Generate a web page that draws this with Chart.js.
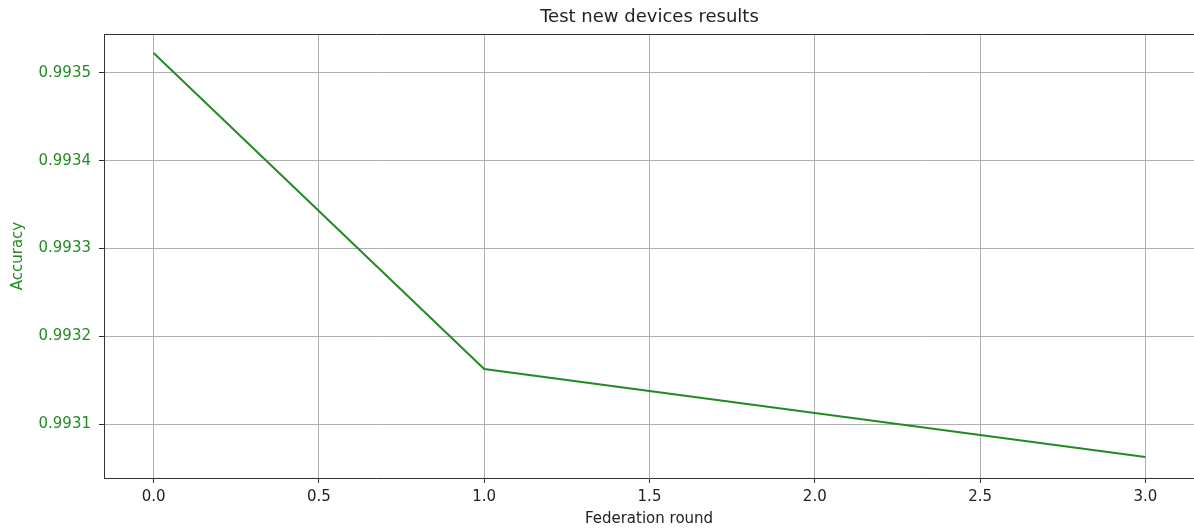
<!DOCTYPE html>
<html>
<head>
<meta charset="utf-8">
<script src="https://cdn.jsdelivr.net/npm/chart.js@4/dist/chart.umd.min.js"></script>
<style>
    html, body { margin: 0; padding: 0; background: #fff; overflow: hidden; }
    canvas { display: block; }
</style>
</head>
<body>
<canvas id="acc-chart" width="1194" height="531"></canvas>
<script>
// Test new devices results - accuracy per federation round

const rounds = [0, 1, 2, 3];
const accuracy = [0.9935228, 0.9931629, 0.9931128, 0.9930626];
const xTicks = [0, 0.5, 1.0, 1.5, 2.0, 2.5, 3.0];
const yTicks = [0.9931, 0.9932, 0.9933, 0.9934, 0.9935];

const green = '#228b22';
const font = "'DejaVu Sans', sans-serif";

// title + top spine, matplotlib style
const frameAndTitle = {
    id: 'frameAndTitle',
    afterDraw(chart) {
        const { ctx, chartArea, scales } = chart;
        ctx.save();
        ctx.strokeStyle = '#333';
        ctx.lineWidth = 1;
        ctx.beginPath();
        ctx.moveTo(chartArea.left, chartArea.top + 0.5);
        ctx.lineTo(chartArea.right, chartArea.top + 0.5);
        ctx.stroke();

        ctx.fillStyle = '#222';
        ctx.font = '18px ' + font;
        ctx.textAlign = 'center';
        ctx.textBaseline = 'middle';
        ctx.fillText('Test new devices results', scales.x.getPixelForValue(1.5), 17);
        ctx.restore();
    }
};

const ctx = document.getElementById('acc-chart');

new Chart(ctx, {
    type: 'line',
    data: {
        datasets: [{
            data: rounds.map((r, i) => ({ x: r, y: accuracy[i] })),
            borderColor: green,
            borderWidth: 2,
            pointRadius: 0,
            tension: 0,
            fill: false
        }]
    },
    options: {
        responsive: false,
        animation: false,
        layout: { padding: { top: 34, right: 0, left: 0, bottom: 0 } },
        plugins: {
            legend: { display: false },
            tooltip: { enabled: false },
            title: { display: false }
        },
        scales: {
            x: {
                type: 'linear',
                min: -0.15,
                max: 3.147,
                afterBuildTicks: scale => { scale.ticks = xTicks.map(v => ({ value: v })); },
                afterFit: scale => { scale.height = 53; },
                grid: { color: '#b0b0b0', lineWidth: 1, tickColor: '#333', tickLength: 5 },
                border: { color: '#333', width: 1 },
                ticks: {
                    color: '#222',
                    padding: 5,
                    maxRotation: 0,
                    font: { family: font, size: 15 },
                    callback: v => v.toFixed(1)
                },
                title: {
                    display: true,
                    text: 'Federation round',
                    color: '#222',
                    font: { family: font, size: 15 },
                    padding: { top: 0, bottom: 3 }
                }
            },
            y: {
                min: 0.9930387,
                max: 0.9935444,
                afterBuildTicks: scale => { scale.ticks = yTicks.map(v => ({ value: v })); },
                afterFit: scale => { scale.width = 104; },
                grid: { color: '#b0b0b0', lineWidth: 1, tickColor: '#333', tickLength: 5 },
                border: { color: '#333', width: 1 },
                ticks: {
                    color: green,
                    padding: 8,
                    font: { family: font, size: 15 },
                    callback: v => v.toFixed(4)
                },
                title: {
                    display: true,
                    text: 'Accuracy',
                    color: green,
                    font: { family: font, size: 15 },
                    padding: { top: 9, bottom: 0 }
                }
            }
        }
    },
    plugins: [frameAndTitle]
});
</script>
</body>
</html>
